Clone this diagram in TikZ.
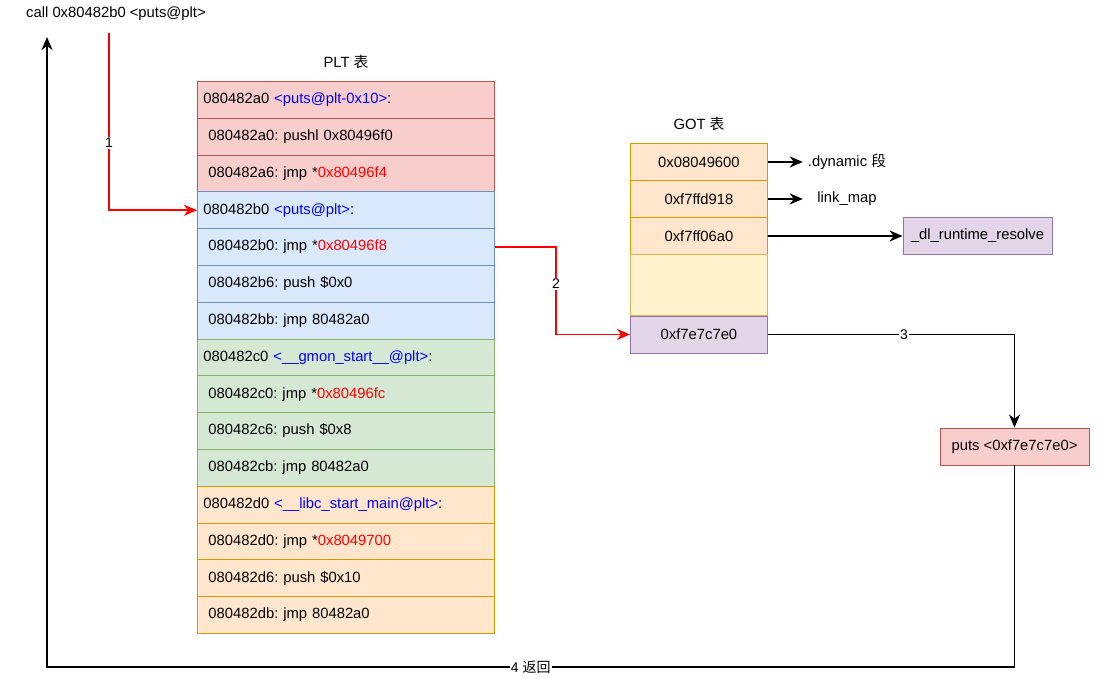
\documentclass[tikz,border=0pt]{standalone}
\usepackage{fontspec}
\setmainfont{Liberation Sans}
\newfontfamily\cjk{Noto Sans CJK SC}
\usetikzlibrary{arrows.meta}
\definecolor{rF}{HTML}{F8CECC}\definecolor{rS}{HTML}{B85450}
\definecolor{bF}{HTML}{DAE8FC}\definecolor{bS}{HTML}{6C8EBF}
\definecolor{gF}{HTML}{D5E8D4}\definecolor{gS}{HTML}{82B366}
\definecolor{oF}{HTML}{FFE6CC}\definecolor{oS}{HTML}{D79B00}
\definecolor{yF}{HTML}{FFF2CC}\definecolor{yS}{HTML}{D6B656}
\definecolor{pF}{HTML}{E1D5E7}\definecolor{pS}{HTML}{9673A6}
\definecolor{blueT}{HTML}{0000FF}\definecolor{redT}{HTML}{FF0000}
\newcommand{\sym}[1]{\textcolor{blueT}{#1}}
\newcommand{\addr}[1]{\textcolor{redT}{#1}}
\frenchspacing
\begin{document}
\frenchspacing
\begin{tikzpicture}[x=1pt,y=-1pt,
  every node/.style={font=\fontsize{14.8}{17}\selectfont},
  rowbase/.style={rectangle, draw, line width=0.9pt, anchor=north west, minimum height=36.8pt, inner ysep=0pt, align=left},
  hdr/.style={rowbase, inner xsep=6pt, text width=285pt},
  ins/.style={rowbase, inner xsep=11pt, text width=275pt},
  redrow/.style={fill=rF, draw=rS},
  bluerow/.style={fill=bF, draw=bS},
  greenrow/.style={fill=gF, draw=gS},
  orangerow/.style={fill=oF, draw=oS},
  gotcell/.style={rectangle, draw=oS, fill=oF, line width=0.9pt, anchor=north west, minimum width=137pt, minimum height=37pt, inner sep=0pt},
  box/.style={rectangle, line width=0.9pt, minimum width=149pt, minimum height=37pt, inner sep=0pt},
  plain/.style={inner sep=0pt},
  conn/.style={line width=1.7pt, -{Stealth[length=13pt,width=11pt,inset=4pt]}},
  rconn/.style={line width=1.7pt, draw=red, -{Stealth[length=13pt,width=11pt,inset=4pt,red]}},
  lbl/.style={fill=white, inner sep=1pt, font=\fontsize{14}{16}\selectfont}
]
\useasboundingbox (0,0) rectangle (1109,678);

% call text
\node[plain] (call) at (116,14) {call 0x80482b0 <puts@plt>};

% titles
\node[plain] (plttitle) at (346,62) {PLT {\cjk 表}};
\node[plain] (gottitle) at (699,124) {GOT {\cjk 表}};

% PLT table
\node[hdr, redrow] (p0) at (197,81.0) {080482a0 \sym{<puts@plt-0x10>}:};
\node[ins, redrow] (p1) at (197,117.8) {080482a0: pushl 0x80496f0};
\node[ins, redrow] (p2) at (197,154.6) {080482a6: jmp *\addr{0x80496f4}};
\node[hdr, bluerow] (p3) at (197,191.4) {080482b0 \sym{<puts@plt>}:};
\node[ins, bluerow] (p4) at (197,228.2) {080482b0: jmp *\addr{0x80496f8}};
\node[ins, bluerow] (p5) at (197,265.0) {080482b6: push \$0x0};
\node[ins, bluerow] (p6) at (197,301.8) {080482bb: jmp 80482a0};
\node[hdr, greenrow] (p7) at (197,338.6) {080482c0 \sym{<\_\_gmon\_start\_\_@plt>}:};
\node[ins, greenrow] (p8) at (197,375.4) {080482c0: jmp *\addr{0x80496fc}};
\node[ins, greenrow] (p9) at (197,412.2) {080482c6: push \$0x8};
\node[ins, greenrow] (p10) at (197,449.0) {080482cb: jmp 80482a0};
\node[hdr, orangerow] (p11) at (197,485.8) {080482d0 \sym{<\_\_libc\_start\_main@plt>}:};
\node[ins, orangerow] (p12) at (197,522.6) {080482d0: jmp *\addr{0x8049700}};
\node[ins, orangerow] (p13) at (197,559.4) {080482d6: push \$0x10};
\node[ins, orangerow] (p14) at (197,596.2) {080482db: jmp 80482a0};

% GOT table
\node[gotcell] (g0) at (630,143) {0x08049600};
\node[gotcell] (g1) at (630,180) {0xf7ffd918};
\node[gotcell] (g2) at (630,217) {0xf7ff06a0};
\node[gotcell, fill=yF, draw=yS, minimum height=61pt] (g3) at (630,254) {};
\node[gotcell, fill=pF, draw=pS] (g4) at (630,315.5) {0xf7e7c7e0};

% side targets
\node[plain, minimum width=88pt] (dyn) at (847,161.5) {.dynamic {\cjk 段}};
\node[plain, minimum width=88pt] (lm) at (847,198.5) {link\_map};
\node[box, fill=pF, draw=pS] (dl) at (977.5,236) {\_dl\_runtime\_resolve};
\node[box, fill=rF, draw=rS] (pb) at (1014.5,446.5) {puts <0xf7e7c7e0>};

% coordinates for free ends
\coordinate (s1) at (109,33);
\coordinate (k2) at (556,0);
\coordinate (r4) at (47,667);
\coordinate (e4) at (47,37);

% connectors
\draw[rconn] (s1) |- node[pos=0.31, lbl]{1} (p3.west);
\draw[rconn] (p4.east) -- (p4.east -| k2) |- node[pos=0.21, lbl]{2} (g4.west);
\draw[conn] (g0.east) -- (g0.east -| dyn.west);
\draw[conn] (g1.east) -- (g1.east -| lm.west);
\draw[conn] (g2.east) -- (dl.west);
\draw[conn] (g4.east) -| node[pos=0.276, lbl]{3} (pb.north);
\draw[conn] (pb.south) |- node[pos=0.75, lbl]{4 {\cjk 返回}} (r4) -- (e4);
\end{tikzpicture}
\end{document}
